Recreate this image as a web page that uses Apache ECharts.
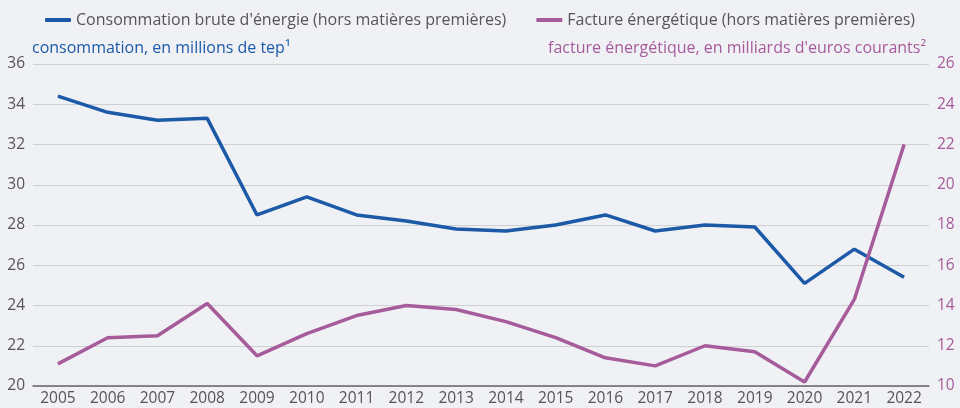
<!DOCTYPE html>
<html>
<head>
<meta charset="utf-8">
<script src="https://cdn.jsdelivr.net/npm/echarts@6.0.0/dist/echarts.min.js"></script>
<style>
  html, body { margin: 0; padding: 0; background: #f0f1f4; }
  #chart { width: 960px; height: 408px; }
</style>
</head>
<body>
<div id="chart"></div>
<script>
// données
var years = ['2005', '2006', '2007', '2008', '2009', '2010', '2011', '2012', '2013',
  '2014', '2015', '2016', '2017', '2018', '2019', '2020', '2021', '2022'];
var consommation = [34.4, 33.6, 33.2, 33.3, 28.5, 29.4, 28.5, 28.2, 27.8,
  27.7, 28.0, 28.5, 27.7, 28.0, 27.9, 25.1, 26.8, 25.4];
var facture = [11.1, 12.4, 12.5, 14.1, 11.5, 12.6, 13.5, 14.0, 13.8,
  13.2, 12.4, 11.4, 11.0, 12.0, 11.7, 10.2, 14.3, 22.0];

var blue = '#1c5aa8';
var purple = '#a65b9a';
var font = 'Open Sans';

var myChart = echarts.init(document.getElementById('chart'));

var option = {
  backgroundColor: '#f0f1f4',
  textStyle: { fontFamily: font },
  animation: false,
  legend: {
    top: 7,
    left: 'center',
    itemWidth: 26,
    itemHeight: 4,
    itemGap: 30,
    icon: 'roundRect',
    textStyle: { fontFamily: font, fontSize: 16, color: '#555' },
    data: ['Consommation brute d\'énergie (hors matières premières)',
      'Facture énergétique (hors matières premières)']
  },
  grid: { left: 33, right: 31, top: 64, bottom: 22 },
  xAxis: {
    type: 'category',
    data: years,
    boundaryGap: true,
    axisTick: { show: false },
    axisLine: { lineStyle: { color: '#666', width: 1.5 } },
    axisLabel: { color: '#555', fontSize: 15.5, margin: 5, fontFamily: font }
  },
  yAxis: [
    {
      type: 'value',
      min: 20, max: 36, interval: 2,
      name: 'consommation, en millions de tep¹',
      nameLocation: 'end',
      nameGap: 8,
      nameTextStyle: { color: blue, fontSize: 16, align: 'left', fontFamily: font, padding: [0, 0, 0, -1] },
      axisLine: { show: false },
      axisTick: { show: false },
      axisLabel: { color: '#555', fontSize: 15.5, margin: 8, fontFamily: font },
      splitLine: { lineStyle: { color: '#cfd0d4', width: 1 } }
    },
    {
      type: 'value',
      min: 10, max: 26, interval: 2,
      position: 'right',
      name: 'facture énergétique, en milliards d\'euros courants²',
      nameLocation: 'end',
      nameGap: 8,
      nameTextStyle: { color: purple, fontSize: 16, align: 'right', fontFamily: font, padding: [0, 3, 0, 0] },
      axisLine: { show: false },
      axisTick: { show: false },
      axisLabel: { color: purple, fontSize: 15.5, margin: 8, fontFamily: font },
      splitLine: { show: false }
    }
  ],
  series: [
    {
      name: 'Consommation brute d\'énergie (hors matières premières)',
      type: 'line',
      yAxisIndex: 0,
      data: consommation,
      symbol: 'none',
      lineStyle: { color: blue, width: 3.5 },
      itemStyle: { color: blue }
    },
    {
      name: 'Facture énergétique (hors matières premières)',
      type: 'line',
      yAxisIndex: 1,
      data: facture,
      symbol: 'none',
      lineStyle: { color: purple, width: 3.5 },
      itemStyle: { color: purple }
    }
  ]
};

myChart.setOption(option);
</script>
</body>
</html>
